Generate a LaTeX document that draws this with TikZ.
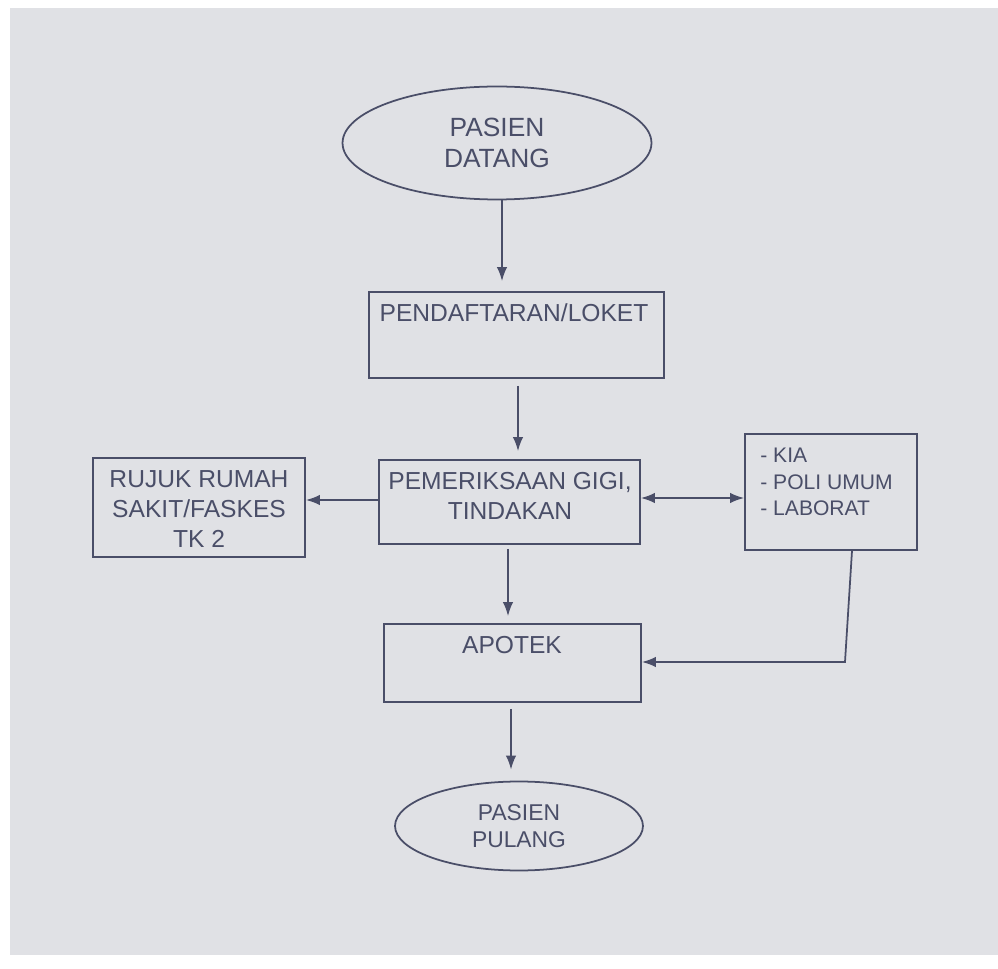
\documentclass[tikz,border=0pt]{standalone}
\usepackage{fontspec}
\setmainfont{Liberation Sans}
\usetikzlibrary{arrows.meta,shapes.geometric,fit}
\definecolor{screen}{RGB}{224,225,229}
\definecolor{ink}{RGB}{74,78,104}
\tikzset{
  box/.style={draw=ink,line width=1pt,inner sep=0pt,fit={#1}},
  oval/.style={draw=ink,line width=1pt,ellipse,inner sep=0pt},
  txt/.style={text=ink,align=center,font=\fontsize{14}{17}\selectfont,inner sep=0pt},
  conn/.style={draw=ink,line width=1pt,-{Latex[length=8pt,width=6pt]}},
}
\begin{document}
\begin{tikzpicture}[x=0.02cm,y=-0.02cm]
\useasboundingbox (0,0) rectangle (998,969);
\fill[white] (0,0) rectangle (998,969);
\fill[screen] (10,8) rectangle (998,955);
% nodes
\node[oval,minimum width=6.18cm,minimum height=2.26cm] (datang) at (497,143) {};
\node[txt,font=\fontsize{15}{18}\selectfont] (tdatang) at (497,143) {PASIEN\\DATANG};
\node[box={(369,292) (664,378)}] (loket) {};
\node[txt,anchor=north] (tloket) at (514,303) {PENDAFTARAN/LOKET};
\node[box={(379,460) (640,544)}] (periksa) {};
\node[txt,anchor=north] (tperiksa) at (510,472) {PEMERIKSAAN GIGI,\\TINDAKAN};
\node[box={(93,458) (305,557)}] (rujuk) {};
\node[txt,anchor=north] (trujuk) at (199,470) {RUJUK RUMAH\\SAKIT/FASKES\\TK 2};
\node[box={(745,434) (917,550)}] (poli) {};
\node[txt,anchor=north west,align=left,font=\fontsize{12}{15}\selectfont] (tpoli) at (760,448) {- KIA\\- POLI UMUM\\- LABORAT};
\node[box={(384,624) (641,702)}] (apotek) {};
\node[txt,anchor=north] (tapotek) at (512,636) {APOTEK};
\node[oval,minimum width=4.96cm,minimum height=1.78cm] (pulang) at (519,826) {};
\node[txt,font=\fontsize{13}{15}\selectfont] (tpulang) at (519,826) {PASIEN\\PULANG};
% connectors
\draw[conn] (datang.south -| 502,0) -- ([yshift=0.2cm]loket.north -| 502,0);
\draw[conn] ([yshift=-0.14cm]loket.south -| 518,0) -- ([yshift=0.16cm]periksa.north -| 518,0);
\draw[conn] (periksa.west |- 0,500) -- (rujuk.east |- 0,500);
\draw[draw=ink,line width=1pt,{Latex[length=8pt,width=6pt]}-{Latex[length=8pt,width=6pt]}] (periksa.east |- 0,498) -- (poli.west |- 0,498);
\draw[conn] ([yshift=-0.08cm]periksa.south -| 508,0) -- ([yshift=0.14cm]apotek.north -| 508,0);
\coordinate (bend) at (845,662);
\draw[conn] (poli.south -| 852,0) -- (bend) -- (apotek.east |- bend);
\draw[conn] ([yshift=-0.12cm]apotek.south -| 511,0) -- ([yshift=0.22cm]pulang.north -| 511,0);
\end{tikzpicture}
\end{document}
